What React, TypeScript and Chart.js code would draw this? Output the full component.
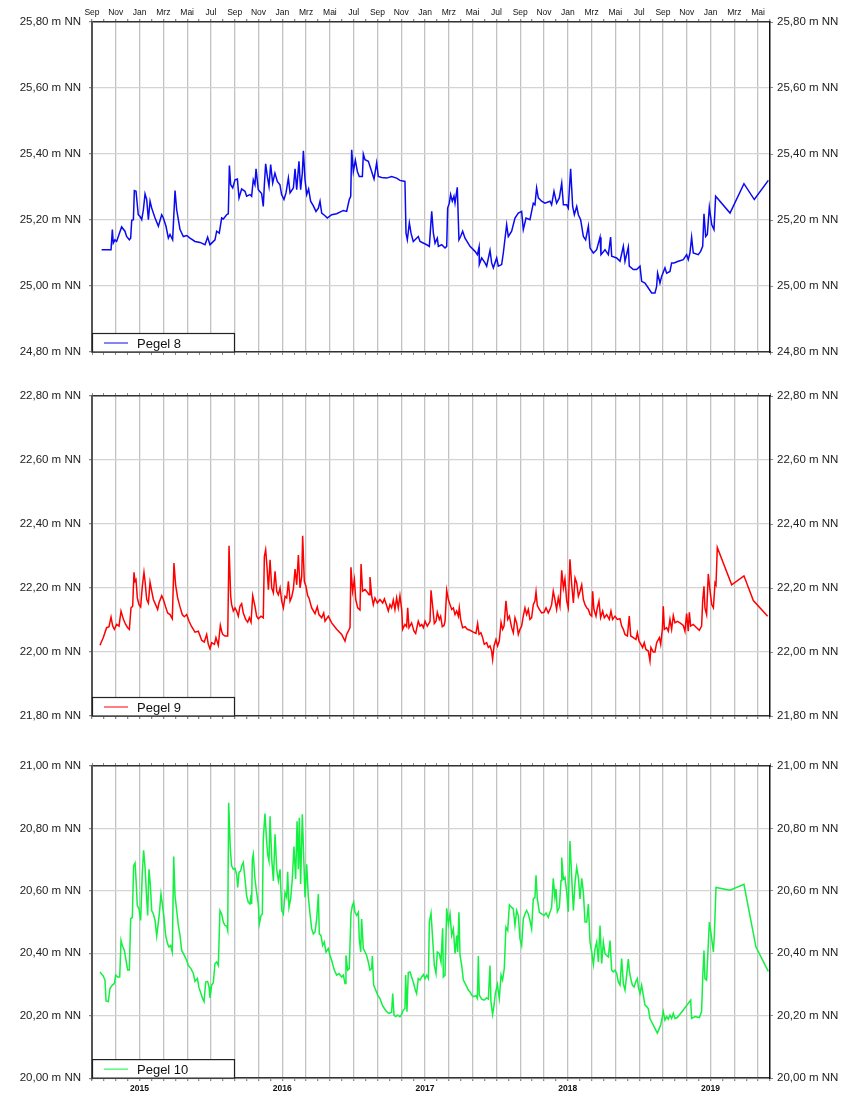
import React, { useEffect, useRef } from 'react';
import { Chart, registerables } from 'chart.js';

Chart.register(...registerables);

// x values: months since 1 Sep 2014
const monthTickLabels = ['Sep', 'Nov', 'Jan', 'Mrz', 'Mai', 'Jul'];
const yearTickMonths = [4, 16, 28, 40, 52];
const yearTickLabels = ['2015', '2016', '2017', '2018', '2019'];

const pegel8Months = [0.81,1.6,1.71,1.79,1.93,2.07,2.49,2.77,2.91,3.14,3.25,3.34,3.48,3.56,3.7,3.89,4.04,4.18,4.32,4.46,4.6,4.74,4.88,5.02,5.3,5.58,5.86,6.0,6.22,6.42,6.56,6.78,6.98,7.12,7.4,7.68,7.96,8.24,8.66,9.08,9.5,9.72,9.92,10.06,10.34,10.48,10.7,10.9,11.04,11.32,11.46,11.55,11.66,11.83,12.02,12.22,12.36,12.58,12.86,13.0,13.28,13.42,13.56,13.7,13.79,13.98,14.26,14.4,14.49,14.6,14.74,14.88,15.02,15.19,15.38,15.58,15.8,15.94,16.14,16.31,16.51,16.65,16.93,17.07,17.21,17.4,17.54,17.68,17.77,17.91,18.05,18.21,18.38,18.61,18.83,19.03,19.17,19.31,19.59,19.78,20.15,20.57,21.13,21.41,21.63,21.75,21.83,21.97,22.14,22.31,22.47,22.73,22.81,22.95,23.23,23.51,23.71,23.93,24.07,24.35,24.77,25.19,25.61,25.89,26.31,26.4,26.51,26.68,26.82,27.01,27.43,27.58,28.14,28.36,28.56,28.7,28.84,29.03,29.12,29.4,29.68,29.82,29.9,30.04,30.15,30.29,30.43,30.52,30.71,30.85,30.99,31.16,31.36,31.78,32.2,32.4,32.54,32.56,32.76,33.04,33.18,33.46,33.6,33.74,34.02,34.16,34.44,34.58,34.86,35.0,35.28,35.56,35.84,36.12,36.26,36.49,36.82,37.1,37.24,37.38,37.52,37.8,38.08,38.5,38.64,38.84,39.06,39.29,39.49,39.63,39.91,40.04,40.24,40.41,40.55,40.75,40.89,41.08,41.31,41.5,41.73,41.87,42.15,42.43,42.71,42.79,43.13,43.41,43.6,43.69,44.11,44.39,44.67,44.81,45.09,45.17,45.51,45.79,46.07,46.21,46.49,46.77,47.05,47.33,47.47,47.55,47.75,47.89,48.17,48.31,48.59,48.73,48.93,49.29,49.71,49.99,50.13,50.27,50.41,50.55,50.97,51.17,51.34,51.45,51.59,51.73,51.9,52.1,52.29,52.43,53.64,54.81,55.68,56.86];
const pegel8Levels = [25.11,25.11,25.171,25.13,25.14,25.135,25.179,25.166,25.15,25.14,25.145,25.199,25.201,25.289,25.287,25.216,25.211,25.201,25.231,25.279,25.262,25.201,25.257,25.236,25.206,25.181,25.216,25.206,25.181,25.145,25.156,25.14,25.289,25.231,25.171,25.15,25.153,25.145,25.135,25.132,25.125,25.148,25.125,25.13,25.14,25.166,25.16,25.206,25.203,25.216,25.219,25.365,25.307,25.297,25.322,25.324,25.267,25.294,25.287,25.272,25.277,25.272,25.322,25.307,25.355,25.292,25.28,25.241,25.307,25.37,25.332,25.302,25.368,25.312,25.342,25.317,25.307,25.277,25.262,25.282,25.327,25.282,25.297,25.355,25.292,25.378,25.292,25.342,25.41,25.322,25.277,25.294,25.257,25.243,25.226,25.236,25.257,25.221,25.213,25.206,25.216,25.219,25.229,25.226,25.262,25.272,25.413,25.347,25.381,25.347,25.332,25.332,25.4,25.383,25.378,25.347,25.324,25.373,25.332,25.329,25.327,25.332,25.327,25.32,25.317,25.16,25.14,25.191,25.16,25.135,25.15,25.135,25.125,25.12,25.226,25.16,25.13,25.145,25.12,25.125,25.115,25.12,25.236,25.251,25.277,25.257,25.272,25.251,25.299,25.14,25.15,25.166,25.145,25.12,25.105,25.095,25.118,25.065,25.085,25.07,25.06,25.108,25.07,25.055,25.085,25.06,25.065,25.1,25.186,25.15,25.166,25.206,25.221,25.226,25.171,25.206,25.201,25.251,25.246,25.297,25.267,25.257,25.251,25.257,25.246,25.287,25.251,25.267,25.312,25.246,25.246,25.236,25.355,25.241,25.216,25.241,25.216,25.201,25.15,25.14,25.181,25.115,25.1,25.11,25.148,25.095,25.11,25.095,25.148,25.09,25.085,25.075,25.12,25.075,25.118,25.06,25.05,25.05,25.06,25.014,25.009,24.994,24.979,24.979,24.999,25.039,25.009,25.029,25.055,25.039,25.044,25.07,25.07,25.075,25.08,25.095,25.08,25.1,25.148,25.1,25.095,25.105,25.12,25.219,25.15,25.156,25.239,25.186,25.171,25.272,25.221,25.31,25.262,25.32];

const pegel9Months = [0.67,0.95,1.23,1.43,1.6,1.74,1.88,2.07,2.27,2.44,2.64,2.83,3.0,3.14,3.28,3.42,3.53,3.62,3.7,3.81,3.95,4.09,4.23,4.37,4.46,4.6,4.74,4.88,5.02,5.16,5.35,5.52,5.63,5.86,6.0,6.19,6.36,6.56,6.75,6.89,7.03,7.2,7.4,7.59,7.76,7.96,8.16,8.38,8.66,8.94,9.22,9.44,9.64,9.78,9.92,10.06,10.29,10.42,10.62,10.79,10.9,10.99,11.18,11.41,11.52,11.66,11.74,11.88,12.02,12.16,12.3,12.44,12.58,12.72,12.92,13.09,13.23,13.37,13.51,13.7,13.84,13.98,14.21,14.4,14.49,14.6,14.71,14.83,14.97,15.11,15.25,15.39,15.53,15.67,15.81,15.95,16.09,16.23,16.37,16.51,16.65,16.79,16.93,17.07,17.21,17.35,17.49,17.63,17.71,17.85,17.99,18.13,18.24,18.47,18.75,18.94,19.08,19.31,19.48,19.59,19.87,20.15,20.57,20.99,21.27,21.41,21.55,21.69,21.77,21.91,22.06,22.17,22.34,22.53,22.62,22.75,22.95,23.18,23.29,23.37,23.51,23.65,23.79,23.99,24.21,24.44,24.58,24.77,24.91,25.05,25.19,25.33,25.47,25.61,25.75,25.89,26.03,26.12,26.31,26.45,26.54,26.65,26.87,27.07,27.21,27.43,27.58,27.72,27.86,28.0,28.19,28.42,28.5,28.64,28.78,28.92,29.03,29.2,29.31,29.45,29.59,29.68,29.82,29.96,30.1,30.24,30.38,30.52,30.66,30.8,30.88,30.99,31.16,31.36,31.55,31.78,32.06,32.28,32.42,32.54,32.7,32.84,32.98,33.18,33.32,33.46,33.6,33.68,33.8,33.96,34.1,34.24,34.39,34.52,34.64,34.8,34.95,35.09,35.28,35.42,35.56,35.7,35.84,35.98,36.12,36.26,36.4,36.54,36.68,36.82,36.96,37.1,37.24,37.33,37.44,37.61,37.8,38.0,38.17,38.36,38.5,38.64,38.78,38.92,39.06,39.2,39.34,39.49,39.63,39.76,39.91,40.04,40.18,40.33,40.47,40.61,40.75,40.89,41.03,41.17,41.31,41.45,41.59,41.73,41.87,42.01,42.09,42.2,42.37,42.48,42.62,42.76,42.93,43.07,43.27,43.49,43.63,43.77,43.97,44.16,44.39,44.53,44.67,44.81,45.01,45.17,45.29,45.51,45.73,45.85,45.99,46.15,46.29,46.43,46.57,46.77,46.91,46.99,47.19,47.33,47.47,47.7,47.81,47.95,48.03,48.12,48.31,48.45,48.59,48.73,48.87,49.01,49.21,49.43,49.71,49.85,49.99,50.13,50.22,50.33,50.55,50.83,51.06,51.25,51.34,51.45,51.53,51.67,51.81,51.95,52.1,52.24,52.38,52.46,52.57,53.78,54.81,55.6,56.8];
const pegel9Levels = [22.021,22.045,22.076,22.079,22.109,22.081,22.071,22.086,22.081,22.128,22.102,22.086,22.076,22.071,22.138,22.143,22.249,22.221,22.226,22.169,22.148,22.141,22.205,22.249,22.221,22.164,22.153,22.218,22.19,22.164,22.148,22.133,22.153,22.176,22.164,22.141,22.122,22.117,22.104,22.278,22.21,22.169,22.141,22.117,22.11,22.117,22.096,22.079,22.062,22.065,22.037,22.031,22.055,22.024,22.01,22.029,22.024,22.045,22.021,22.083,22.065,22.055,22.05,22.05,22.332,22.174,22.148,22.128,22.138,22.128,22.112,22.143,22.151,22.122,22.102,22.093,22.107,22.093,22.176,22.143,22.112,22.104,22.112,22.107,22.298,22.319,22.267,22.195,22.288,22.2,22.185,22.252,22.19,22.179,22.2,22.159,22.138,22.174,22.169,22.221,22.159,22.172,22.197,22.259,22.21,22.303,22.2,22.236,22.363,22.221,22.205,22.176,22.169,22.138,22.12,22.141,22.117,22.107,22.122,22.096,22.112,22.091,22.071,22.055,22.034,22.055,22.065,22.076,22.265,22.19,22.226,22.164,22.138,22.131,22.275,22.19,22.195,22.185,22.179,22.234,22.176,22.148,22.169,22.153,22.164,22.153,22.166,22.145,22.128,22.148,22.138,22.162,22.133,22.169,22.138,22.176,22.135,22.071,22.086,22.079,22.138,22.076,22.091,22.065,22.058,22.096,22.081,22.086,22.076,22.096,22.081,22.096,22.193,22.143,22.089,22.096,22.124,22.102,22.112,22.079,22.083,22.096,22.193,22.164,22.148,22.133,22.138,22.117,22.128,22.112,22.138,22.102,22.076,22.079,22.071,22.068,22.062,22.058,22.089,22.055,22.06,22.045,22.024,22.029,22.014,22.019,22.003,21.977,22.019,22.039,22.019,22.034,22.093,22.071,22.081,22.16,22.102,22.112,22.076,22.06,22.107,22.091,22.055,22.071,22.081,22.112,22.138,22.117,22.133,22.102,22.107,22.148,22.159,22.188,22.145,22.133,22.122,22.124,22.138,22.122,22.133,22.148,22.19,22.164,22.133,22.169,22.143,22.255,22.2,22.228,22.159,22.138,22.29,22.21,22.153,22.231,22.216,22.174,22.19,22.21,22.164,22.148,22.138,22.133,22.117,22.112,22.19,22.133,22.112,22.138,22.159,22.107,22.128,22.107,22.117,22.102,22.128,22.102,22.112,22.102,22.104,22.081,22.071,22.055,22.05,22.112,22.05,22.045,22.039,22.06,22.034,22.024,22.014,22.029,22.008,22.003,21.972,22.014,22.0,22.0,22.029,22.045,22.024,22.071,22.143,22.071,22.076,22.065,22.102,22.071,22.114,22.091,22.096,22.091,22.083,22.065,22.12,22.065,22.124,22.081,22.086,22.076,22.068,22.081,22.159,22.205,22.138,22.117,22.244,22.195,22.148,22.138,22.216,22.21,22.327,22.21,22.238,22.161,22.112];

const pegel10Months = [0.67,0.95,1.09,1.18,1.37,1.51,1.71,1.88,1.99,2.16,2.33,2.44,2.55,2.72,2.86,3.0,3.14,3.25,3.39,3.5,3.62,3.7,3.81,3.95,4.09,4.23,4.34,4.46,4.6,4.68,4.79,4.9,5.02,5.16,5.3,5.44,5.58,5.66,5.8,5.91,6.05,6.19,6.36,6.47,6.61,6.75,6.87,6.98,7.12,7.26,7.4,7.54,7.76,7.96,8.1,8.32,8.52,8.66,8.86,9.0,9.16,9.28,9.42,9.56,9.72,9.84,9.92,10.06,10.2,10.34,10.48,10.62,10.76,10.9,11.04,11.18,11.32,11.41,11.49,11.63,11.74,11.88,12.02,12.16,12.25,12.36,12.5,12.58,12.72,12.86,13.0,13.14,13.28,13.37,13.42,13.48,13.56,13.7,13.84,13.98,14.07,14.21,14.32,14.4,14.54,14.69,14.77,14.88,14.97,15.11,15.25,15.39,15.53,15.67,15.81,15.95,16.09,16.23,16.37,16.45,16.56,16.7,16.84,16.98,17.12,17.24,17.35,17.43,17.54,17.68,17.82,17.91,18.05,18.19,18.33,18.47,18.61,18.75,18.89,19.03,19.11,19.25,19.39,19.53,19.67,19.87,20.01,20.15,20.37,20.57,20.77,20.99,21.13,21.27,21.35,21.49,21.63,21.77,21.89,22.0,22.11,22.25,22.39,22.47,22.59,22.67,22.81,22.95,23.09,23.23,23.37,23.51,23.57,23.68,23.85,24.02,24.21,24.41,24.58,24.77,24.97,25.19,25.28,25.39,25.53,25.7,25.89,26.03,26.17,26.31,26.37,26.48,26.59,26.74,26.87,27.01,27.15,27.29,27.43,27.58,27.72,27.86,28.0,28.14,28.28,28.36,28.5,28.64,28.78,28.92,29.03,29.2,29.34,29.48,29.54,29.68,29.82,29.96,30.1,30.24,30.38,30.52,30.66,30.74,30.85,30.94,31.08,31.22,31.44,31.64,31.78,31.92,32.06,32.28,32.4,32.48,32.56,32.76,32.96,33.18,33.32,33.46,33.54,33.68,33.8,33.91,34.08,34.24,34.39,34.52,34.66,34.8,34.95,35.09,35.28,35.42,35.56,35.7,35.84,35.98,36.12,36.26,36.4,36.54,36.68,36.82,36.96,37.1,37.24,37.33,37.44,37.61,37.8,38.0,38.17,38.36,38.5,38.64,38.78,38.92,39.01,39.12,39.29,39.43,39.49,39.63,39.76,39.91,40.04,40.18,40.33,40.47,40.61,40.75,40.89,41.03,41.17,41.31,41.45,41.59,41.73,41.87,42.01,42.15,42.29,42.43,42.57,42.71,42.85,42.99,43.13,43.27,43.41,43.55,43.69,43.83,43.97,44.11,44.25,44.39,44.53,44.67,44.81,44.95,45.09,45.17,45.29,45.43,45.57,45.73,45.85,45.93,46.07,46.21,46.35,46.49,46.63,46.77,46.91,47.19,47.53,47.81,48.03,48.17,48.31,48.45,48.59,48.73,48.87,49.01,49.21,49.71,50.33,50.41,50.69,51.06,51.25,51.34,51.45,51.53,51.67,51.9,52.1,52.24,52.32,52.46,53.64,54.81,55.82,56.86];
const pegel10Levels = [20.34,20.327,20.314,20.247,20.245,20.287,20.298,20.303,20.33,20.324,20.324,20.441,20.425,20.409,20.377,20.346,20.346,20.51,20.515,20.68,20.689,20.638,20.553,20.542,20.505,20.659,20.73,20.675,20.574,20.521,20.669,20.622,20.537,20.526,20.505,20.455,20.5,20.526,20.59,20.558,20.515,20.457,20.43,20.42,20.425,20.404,20.71,20.584,20.537,20.489,20.457,20.409,20.393,20.377,20.361,20.351,20.335,20.31,20.319,20.289,20.271,20.257,20.245,20.308,20.31,20.292,20.257,20.298,20.306,20.367,20.372,20.361,20.537,20.526,20.5,20.489,20.487,20.473,20.882,20.733,20.68,20.669,20.672,20.653,20.611,20.659,20.664,20.68,20.691,20.638,20.584,20.563,20.558,20.587,20.558,20.701,20.717,20.638,20.595,20.558,20.494,20.521,20.526,20.765,20.848,20.754,20.717,20.696,20.839,20.701,20.632,20.781,20.669,20.632,20.669,20.537,20.526,20.595,20.579,20.661,20.547,20.574,20.638,20.742,20.638,20.823,20.669,20.834,20.622,20.845,20.685,20.579,20.685,20.579,20.526,20.478,20.462,20.468,20.51,20.59,20.462,20.457,20.425,20.436,20.404,20.415,20.393,20.377,20.346,20.33,20.335,20.324,20.33,20.303,20.393,20.346,20.351,20.526,20.553,20.563,20.531,20.521,20.531,20.446,20.404,20.51,20.415,20.404,20.393,20.372,20.346,20.351,20.391,20.298,20.282,20.266,20.255,20.234,20.223,20.213,20.207,20.211,20.271,20.202,20.197,20.202,20.197,20.204,20.218,20.223,20.33,20.213,20.338,20.34,20.324,20.308,20.287,20.271,20.319,20.314,20.324,20.332,20.319,20.33,20.319,20.5,20.529,20.446,20.361,20.335,20.404,20.399,20.372,20.48,20.324,20.33,20.544,20.494,20.526,20.457,20.478,20.399,20.457,20.404,20.531,20.393,20.361,20.314,20.298,20.282,20.276,20.266,20.261,20.264,20.255,20.391,20.266,20.253,20.25,20.257,20.253,20.361,20.245,20.204,20.234,20.271,20.3,20.255,20.33,20.314,20.351,20.484,20.473,20.555,20.547,20.542,20.489,20.537,20.521,20.446,20.425,20.51,20.526,20.537,20.526,20.505,20.478,20.574,20.579,20.65,20.574,20.531,20.526,20.521,20.529,20.515,20.531,20.547,20.64,20.579,20.606,20.533,20.547,20.632,20.707,20.638,20.643,20.595,20.533,20.76,20.643,20.537,20.627,20.675,20.643,20.574,20.64,20.595,20.5,20.5,20.558,20.436,20.404,20.364,20.415,20.436,20.372,20.489,20.367,20.436,20.399,20.393,20.388,20.441,20.346,20.34,20.346,20.335,20.308,20.298,20.383,20.303,20.282,20.33,20.381,20.346,20.319,20.298,20.292,20.31,20.319,20.292,20.271,20.298,20.266,20.234,20.229,20.223,20.191,20.17,20.144,20.17,20.213,20.186,20.197,20.189,20.202,20.191,20.207,20.191,20.194,20.218,20.25,20.191,20.197,20.194,20.213,20.319,20.409,20.319,20.314,20.5,20.446,20.404,20.457,20.611,20.602,20.621,20.42,20.342];

const FONT = "'Liberation Sans', Arial, Helvetica, sans-serif";
const GRID_V = '#c2c2c2';
const GRID_H = '#d4d4d4';

type PanelDef = {
  label: string;
  color: string;
  months: number[];
  levels: number[];
  yMin: number;
  yMax: number;
  canvasTop: number;
  canvasHeight: number;
  topSpace: number;
  bottomSpace: number;
  monthLabelsTop: boolean;
  yearLabelsBottom: boolean;
};

const panels: PanelDef[] = [
  { label: 'Pegel 8', color: '#0a0af0', months: pegel8Months, levels: pegel8Levels, yMin: 24.8, yMax: 25.8,
    canvasTop: 0, canvasHeight: 376, topSpace: 22, bottomSpace: 24, monthLabelsTop: true, yearLabelsBottom: false },
  { label: 'Pegel 9', color: '#ff0000', months: pegel9Months, levels: pegel9Levels, yMin: 21.8, yMax: 22.8,
    canvasTop: 376, canvasHeight: 364, topSpace: 20, bottomSpace: 24, monthLabelsTop: false, yearLabelsBottom: false },
  { label: 'Pegel 10', color: '#12f040', months: pegel10Months, levels: pegel10Levels, yMin: 20.0, yMax: 21.0,
    canvasTop: 740, canvasHeight: 353, topSpace: 26, bottomSpace: 13, monthLabelsTop: false, yearLabelsBottom: true },
];

const fmtLevel = (v: number) => Number(v).toFixed(2).replace('.', ',') + ' m NN';

const legendBoxPlugin = {
  id: 'legendBox',
  afterDraw(chart: any, _args: any, opts: any) {
    const { ctx, chartArea } = chart;
    const w = 142;
    const h = 19;
    const left = chartArea.left;
    const bottom = chartArea.bottom;
    const top = bottom - h;
    ctx.save();
    ctx.fillStyle = '#ffffff';
    ctx.fillRect(left, top, w, h);
    ctx.strokeStyle = '#222';
    ctx.lineWidth = 1.2;
    ctx.strokeRect(left + 0.5, top + 0.5, w, h - 0.5);
    const midY = top + h / 2 + 0.5;
    ctx.strokeStyle = opts.color;
    ctx.lineWidth = 1;
    ctx.beginPath();
    ctx.moveTo(left + 12, midY);
    ctx.lineTo(left + 36, midY);
    ctx.stroke();
    ctx.fillStyle = '#111';
    ctx.font = `13px ${FONT}`;
    ctx.textBaseline = 'middle';
    ctx.textAlign = 'left';
    ctx.fillText(opts.label, left + 45, midY + 1);
    ctx.restore();
  },
};

function buildConfig(p: PanelDef): any {
  const data = p.months.map((m, i) => ({ x: m, y: p.levels[i] }));
  const vGrid = (c: any) => (c.tick && Math.round(c.tick.value) % 2 === 0 ? GRID_V : 'rgba(0,0,0,0)');
  const monthLabel = (v: any) => {
    const i = Math.round(Number(v));
    return i % 2 === 0 ? monthTickLabels[(i / 2) % 6] : '';
  };
  const yearLabel = (v: any) => {
    const idx = yearTickMonths.indexOf(Math.round(Number(v)));
    return idx >= 0 ? yearTickLabels[idx] : '';
  };
  const xBase = {
    type: 'linear',
    min: 0,
    max: 57,
    offset: false,
    bounds: 'ticks',
  };
  const primaryX: any = {
    ...xBase,
    position: p.monthLabelsTop ? 'top' : 'bottom',
    grid: { color: vGrid, lineWidth: 1.3, drawTicks: true, tickLength: 3, tickColor: '#888', drawOnChartArea: true },
    border: { color: '#333', width: 1.5 },
    ticks: {
      stepSize: 1,
      maxTicksLimit: 100,
      autoSkip: false,
      maxRotation: 0,
      minRotation: 0,
      padding: p.yearLabelsBottom ? 2 : 1,
      color: '#111',
      font: p.yearLabelsBottom ? { size: 8.5, weight: 'bold', family: FONT } : { size: 8.5, family: FONT },
      display: p.monthLabelsTop || p.yearLabelsBottom,
      callback: p.monthLabelsTop ? monthLabel : yearLabel,
    },
    afterFit: (s: any) => {
      s.height = p.monthLabelsTop ? p.topSpace : p.bottomSpace;
    },
  };
  const secondaryX: any = {
    ...xBase,
    position: p.monthLabelsTop ? 'bottom' : 'top',
    grid: { drawOnChartArea: false, drawTicks: true, tickLength: 3, tickColor: '#888', color: '#888' },
    border: { color: '#333', width: 1.5 },
    ticks: { stepSize: 1, maxTicksLimit: 100, autoSkip: false, display: false },
    afterFit: (s: any) => {
      s.height = p.monthLabelsTop ? p.bottomSpace : p.topSpace;
    },
  };
  const yBase = {
    type: 'linear',
    min: p.yMin,
    max: p.yMax,
    ticks: {
      stepSize: 0.2,
      color: '#222',
      font: { size: 11.5, family: FONT },
      callback: (v: any) => fmtLevel(v),
    },
  };
  return {
    type: 'line',
    data: {
      datasets: [
        {
          label: p.label,
          data,
          borderColor: p.color,
          backgroundColor: p.color,
          borderWidth: 1.5,
          pointRadius: 0,
          tension: 0,
          fill: false,
          yAxisID: 'y',
          xAxisID: 'x',
        },
      ],
    },
    options: {
      responsive: false,
      maintainAspectRatio: false,
      animation: false,
      devicePixelRatio: 1,
      parsing: true,
      layout: { padding: 0 },
      events: [],
      plugins: {
        legend: { display: false },
        tooltip: { enabled: false },
        title: { display: false },
        legendBox: { label: p.label, color: p.color },
      },
      scales: {
        x: primaryX,
        x2: secondaryX,
        y: {
          ...yBase,
          position: 'left',
          grid: { color: GRID_H, lineWidth: 1.2, drawTicks: true, tickLength: 3, tickColor: '#888' },
          border: { color: '#555', width: 2 },
          ticks: { ...yBase.ticks, padding: 8 },
          afterFit: (s: any) => {
            s.width = 92;
          },
        },
        y2: {
          ...yBase,
          position: 'right',
          grid: { drawOnChartArea: false, drawTicks: true, tickLength: 3, tickColor: '#888' },
          border: { color: '#111', width: 1.5 },
          ticks: { ...yBase.ticks, padding: 4 },
          afterFit: (s: any) => {
            s.width = 84;
          },
        },
      },
    },
    plugins: [legendBoxPlugin],
  };
}

function Panel({ def }: { def: PanelDef }) {
  const ref = useRef<HTMLCanvasElement | null>(null);
  useEffect(() => {
    if (!ref.current) return;
    const chart = new Chart(ref.current, buildConfig(def));
    return () => chart.destroy();
  }, [def]);
  return (
    <canvas
      ref={ref}
      width={854}
      height={def.canvasHeight}
      style={{ position: 'absolute', left: 0, top: def.canvasTop, width: 854, height: def.canvasHeight, display: 'block' }}
    />
  );
}

export default function App() {
  Chart.defaults.font.family = FONT;
  return (
    <div style={{ position: 'absolute', left: 0, top: 0, width: 854, height: 1093, background: '#fff', overflow: 'hidden' }}>
      {panels.map((p) => (
        <Panel key={p.label} def={p} />
      ))}
    </div>
  );
}
